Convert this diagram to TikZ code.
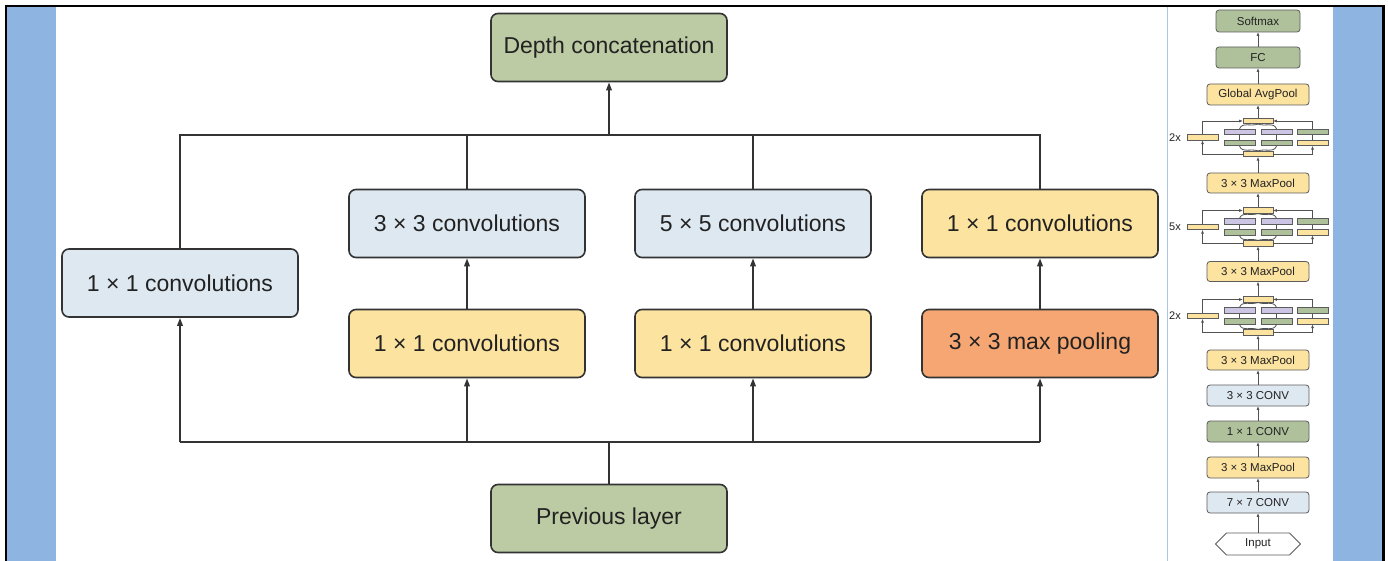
\documentclass[tikz,border=0pt]{standalone}
\usepackage{fontspec}
\setmainfont{Liberation Sans}
\usetikzlibrary{arrows.meta,shapes.symbols}
\definecolor{stripblue}{HTML}{8EB4E2}
\definecolor{sepblue}{HTML}{A9C6E8}
\definecolor{bgreen}{HTML}{BCCBA4}
\definecolor{pgreen}{HTML}{AFC19B}
\definecolor{bblue}{HTML}{DEE8F1}
\definecolor{byellow}{HTML}{FDE3A0}
\definecolor{borange}{HTML}{F5A673}
\definecolor{bpurple}{HTML}{CCC6E4}
\definecolor{lgray}{HTML}{333333}
\definecolor{tgray}{HTML}{222222}
\tikzset{
 mainbox/.style={draw=lgray, line width=1.6pt, rounded corners=7pt, minimum width=236pt, minimum height=68pt, text=tgray, font=\fontsize{23}{27}\selectfont, inner sep=0pt},
 conn/.style={draw=lgray, line width=1.8pt},
 arr/.style={conn, -{Triangle[length=8pt,width=5.5pt]}},
 pbox/.style={draw=lgray!80, line width=0.8pt, rounded corners=3pt, minimum height=20pt, text=tgray, font=\fontsize{11.5}{13}\selectfont, inner sep=0pt},
 bar/.style={draw=lgray!80, line width=0.7pt, minimum height=5.5pt, inner sep=0pt},
 pconn/.style={draw=lgray!85, line width=0.8pt},
 parr/.style={pconn, -{Triangle[length=3.5pt,width=2.5pt]}},
 replab/.style={text=tgray, font=\fontsize{11}{13}\selectfont, inner sep=0pt},
}
\newcommand\incblk[3]{%
 \node[bar, fill=byellow, minimum width=30pt] (#1t) at (1258,#2) {};
 \node[bar, fill=bpurple, minimum width=31pt] (#1pa) at (1239.5,#2+11) {};
 \node[bar, fill=bpurple, minimum width=31pt] (#1pb) at (1276.5,#2+11) {};
 \node[bar, fill=pgreen, minimum width=31pt] (#1ra) at (1312.5,#2+11) {};
 \node[bar, fill=pgreen, minimum width=31pt] (#1ga) at (1239.5,#2+22) {};
 \node[bar, fill=pgreen, minimum width=31pt] (#1gb) at (1276.5,#2+22) {};
 \node[bar, fill=byellow, minimum width=31pt] (#1rb) at (1312.5,#2+22) {};
 \node[bar, fill=byellow, minimum width=31pt] (#1l) at (1202.5,#2+16.5) {};
 \node[bar, fill=byellow, minimum width=30pt] (#1b) at (1258,#2+33) {};
 \node[replab] (#1lab) at (1175,#2+16.5) {#3};
 \draw[parr] (#1b.west) -| (#1l.south);
 \draw[parr] (#1l.north) |- (#1t.west);
 \draw[parr] (#1b.east) -| (#1rb.south);
 \draw[pconn] (#1rb.north) -- (#1ra.south);
 \draw[parr] (#1ra.north) |- (#1t.east);
 \draw[pconn] (#1ga.north) -- (#1pa.south);
 \draw[pconn] (#1gb.north) -- (#1pb.south);
 \draw[pconn] (#1b.north) to[out=160,in=-70] (#1ga.south);
 \draw[pconn] (#1b.north) to[out=20,in=-110] (#1gb.south);
 \draw[pconn] (#1pa.north) to[out=70,in=-160] (#1t.south);
 \draw[pconn] (#1pb.north) to[out=110,in=-20] (#1t.south);
}
\begin{document}
\begin{tikzpicture}[x=1pt,y=-1pt]
\useasboundingbox (0,0) rectangle (1388,561);
\fill[white] (0,0) rectangle (1388,561);
% frame and side strips
\fill[stripblue] (6,6) rectangle (56,561);
\fill[stripblue] (1333,6) rectangle (1383,561);
\draw[black, line width=2.6pt] (6,561) -- (6,6) -- (1383.5,6) -- (1383.5,561);
\draw[sepblue, line width=0.9pt] (1167,7) -- (1167,561);

% main inception module
\node[mainbox, fill=bgreen] (dc) at (609,47.5) {Depth concatenation};
\node[mainbox, fill=bblue] (l1) at (180,283) {1 × 1 convolutions};
\node[mainbox, fill=bblue] (c2u) at (467,223.5) {3 × 3 convolutions};
\node[mainbox, fill=bblue] (c3u) at (753,223.5) {5 × 5 convolutions};
\node[mainbox, fill=byellow] (c4u) at (1040,223.5) {1 × 1 convolutions};
\node[mainbox, fill=byellow] (c2d) at (467,343.5) {1 × 1 convolutions};
\node[mainbox, fill=byellow] (c3d) at (753,343.5) {1 × 1 convolutions};
\node[mainbox, fill=borange] (c4d) at (1040,343.5) {3 × 3 max pooling};
\node[mainbox, fill=bgreen] (pl) at (609,518.5) {Previous layer};

\coordinate (tl) at (180,135);
\coordinate (tr) at (1040,135);
\coordinate (bl) at (180,442);
\coordinate (br) at (1040,442);

\draw[conn] (l1.north) -- (tl) -- (tr) -- (c4u.north);
\draw[conn] (c2u.north) -- (c2u.north |- tl);
\draw[conn] (c3u.north) -- (c3u.north |- tl);
\draw[arr] (dc.south |- tl) -- (dc.south);

\draw[conn] (bl) -- (br);
\draw[conn] (pl.north) -- (pl.north |- bl);
\draw[arr] (bl) -- (l1.south);
\draw[arr] (c2d.south |- bl) -- (c2d.south);
\draw[arr] (c3d.south |- bl) -- (c3d.south);
\draw[arr] (br) -- (c4d.south);
\draw[arr] (c2d.north) -- (c2u.south);
\draw[arr] (c3d.north) -- (c3u.south);
\draw[arr] (c4d.north) -- (c4u.south);

% right panel: network overview
\node[pbox, fill=pgreen, minimum width=84pt, minimum height=22pt] (sm) at (1258,21) {Softmax};
\node[pbox, fill=pgreen, minimum width=84pt, minimum height=21pt] (fc) at (1258,57.5) {FC};
\node[pbox, fill=byellow, minimum width=102pt, minimum height=21pt] (gap) at (1258,94.5) {Global AvgPool};
\incblk{ba}{121}{2x}
\node[pbox, fill=byellow, minimum width=102pt] (mpa) at (1258,183) {3 × 3 MaxPool};
\incblk{bb}{210.5}{5x}
\node[pbox, fill=byellow, minimum width=102pt] (mpb) at (1258,271.5) {3 × 3 MaxPool};
\incblk{bc}{299.5}{2x}
\node[pbox, fill=byellow, minimum width=102pt] (mpc) at (1258,360) {3 × 3 MaxPool};
\node[pbox, fill=bblue, minimum width=102pt, minimum height=21pt] (cv3) at (1258,395.5) {3 × 3 CONV};
\node[pbox, fill=pgreen, minimum width=102pt, minimum height=21pt] (cv1) at (1258,431.5) {1 × 1 CONV};
\node[pbox, fill=byellow, minimum width=102pt, minimum height=21pt] (mpd) at (1258,467.5) {3 × 3 MaxPool};
\node[pbox, fill=bblue, minimum width=102pt, minimum height=21pt] (cv7) at (1258,502.5) {7 × 7 CONV};
\node[signal, signal to=west and east, draw=lgray!80, line width=0.8pt, fill=white, minimum width=85pt, minimum height=22pt, inner sep=0pt, text=tgray, font=\fontsize{11.5}{13}\selectfont] (inp) at (1258,544) {Input};

\draw[parr] (inp.north) -- (cv7.south);
\draw[parr] (cv7.north) -- (mpd.south);
\draw[parr] (mpd.north) -- (cv1.south);
\draw[parr] (cv1.north) -- (cv3.south);
\draw[parr] (cv3.north) -- (mpc.south);
\draw[parr] (mpc.north) -- (bcb.south);
\draw[parr] (bct.north) -- (mpb.south);
\draw[parr] (mpb.north) -- (bbb.south);
\draw[parr] (bbt.north) -- (mpa.south);
\draw[parr] (mpa.north) -- (bab.south);
\draw[parr] (bat.north) -- (gap.south);
\draw[parr] (gap.north) -- (fc.south);
\draw[parr] (fc.north) -- (sm.south);
\end{tikzpicture}
\end{document}
